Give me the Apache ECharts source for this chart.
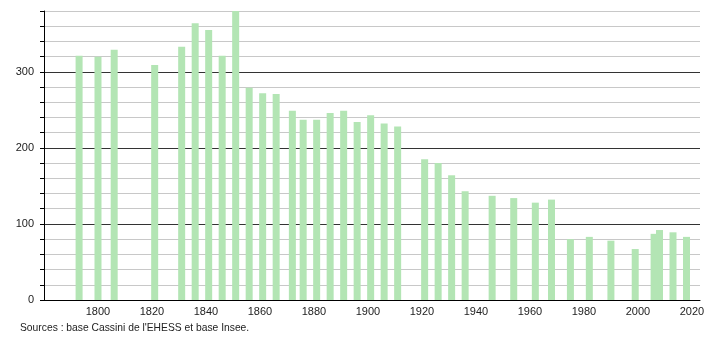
<!DOCTYPE html>
<html>
<head>
<meta charset="utf-8">
<script src="https://cdn.jsdelivr.net/npm/echarts@6/dist/echarts.min.js"></script>
<style>
html,body{margin:0;padding:0;background:#fff;}
#c{width:710px;height:340px;}
</style>
</head>
<body>
<div id="c"></div>
<script>
const years = [1793,1800,1806,1821,1831,1836,1841,1846,1851,1856,1861,1866,1872,1876,1881,1886,1891,1896,1901,1906,1911,1921,1926,1931,1936,1946,1954,1962,1968,1975,1982,1990,1999,2006,2008,2013,2018];
const population = [321,320,329,309,333,364,355,321,380,279,272,271,249,237,237,246,249,234,243,232,228,185,180,164,143,137,134,128,132,80,83,78,67,87,92,89,83];
const sourceText = "Sources : base Cassini de l'EHESS et base Insee.";

const chart = echarts.init(document.getElementById('c'), null, {renderer:'canvas'});
chart.setOption({
  animation:false,
  backgroundColor:'#fff',
  grid:{left:44,right:10,top:11,bottom:40,containLabel:false},
  graphic:[{type:'text',left:20,top:323,style:{text:sourceText,font:'10.3px "Liberation Sans", Arial, sans-serif',fill:'#222'}}],
  xAxis:{
    type:'value',min:1780,max:2023,interval:20,
    axisLine:{show:true,onZero:false,lineStyle:{color:'#000',width:1}},
    axisTick:{show:false},
    splitLine:{show:false},
    axisLabel:{showMinLabel:false,showMaxLabel:true,margin:6,color:'#222',fontSize:11,fontFamily:'"Liberation Sans", Arial, sans-serif',
      formatter:v=>(v%20===0?String(v):'')}
  },
  yAxis:{
    type:'value',min:0,max:380,interval:20,
    axisLine:{show:true,lineStyle:{color:'#000',width:1}},
    axisTick:{show:true,length:4,lineStyle:{color:'#000'}},
    axisLabel:{margin:10,color:'#222',fontSize:11,fontFamily:'"Liberation Sans", Arial, sans-serif',
      formatter:v=>(v%100===0?String(v):'')},
    splitLine:{show:true,lineStyle:{color:['#333','#c8c8c8','#c8c8c8','#c8c8c8','#c8c8c8'],width:1}}
  },
  series:[{
    type:'bar',
    data:years.map((y,i)=>[y,population[i]]),
    barWidth:7,
    itemStyle:{color:'#b3e5b4'},
    z:3
  }]
});
</script>
</body>
</html>
